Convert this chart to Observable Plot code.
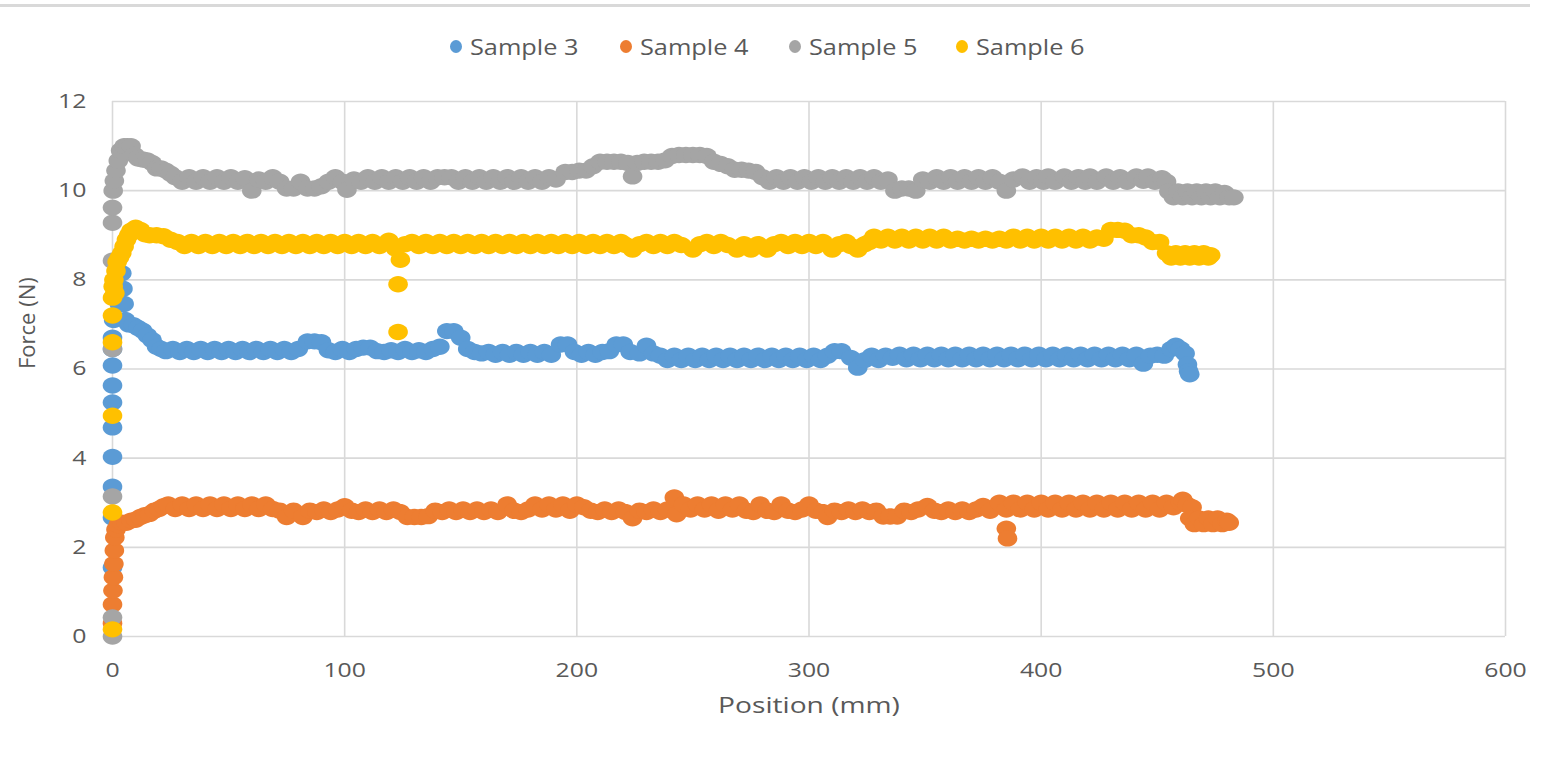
<!DOCTYPE html>
<html>
<head>
<meta charset="utf-8">
<script src="https://cdn.jsdelivr.net/npm/d3@7"></script>
<script src="https://cdn.jsdelivr.net/npm/@observablehq/plot@0.6"></script>
<style>
  html, body { margin: 0; padding: 0; background: #ffffff; }
  #wrap { position: relative; width: 1547px; height: 758px; overflow: hidden; font-family: "Open Sans", sans-serif; }
  #topline { position: absolute; left: 0; top: 4px; width: 1530px; height: 3px; background: #d9d9d9; }
  #legend { position: absolute; left: 0; top: 0; width: 1547px; height: 80px; }
  .item { position: absolute; top: 31px; height: 30px; display: flex; align-items: center; }
  .sw { width: 12px; height: 13px; border-radius: 50%; margin-right: 8px; }
  .lab { font-size: 22px; color: #595959; display: inline-block; transform-origin: left center; white-space: nowrap; }
  #chart { position: absolute; left: 0; top: 0; }
</style>
</head>
<body>
<div id="wrap">
  <div id="topline"></div>
  <div id="chart"></div>
  <div id="legend"></div>
</div>
<script>
// ---- data (Position mm, Force N) ----
const seriesNames = ["Sample 3", "Sample 4", "Sample 5", "Sample 6"];
const seriesColors = ["#5B9BD5", "#ED7D31", "#A5A5A5", "#FFC000"];
const xTicks = [0, 100, 200, 300, 400, 500, 600];
const yTicks = [0, 2, 4, 6, 8, 10, 12];
const xTitle = "Position (mm)";
const yTitle = "Force (N)";

const sample3 = [
 [0,1.55],[0,2.67],[0,3.36],[0,4.03],[0,4.69],[0,5.25],[0,5.63],[0,6.08],[0,6.45],[0,6.7],
 [0.5,7.1],[3,7.45],[4,8.15],[4.5,7.8],[5,7.46],[5.5,7.1],[7,7.0],[9,6.98],[11,6.92],[13,6.86],
 [15,6.75],[17,6.65],[19,6.5],[21,6.45],[23,6.4],[26,6.45],[29,6.38],[32,6.45],[35,6.38],[38,6.45],
 [41,6.38],[44,6.45],[47,6.38],[50,6.45],[53,6.38],[56,6.45],[59,6.38],[62,6.45],[65,6.38],[68,6.45],
 [71,6.38],[74,6.45],[77,6.38],[80,6.45],[84,6.62],[87,6.62],[90,6.6],[93,6.42],[96,6.38],[99,6.45],
 [102,6.38],[105,6.45],[108,6.48],[111,6.48],[114,6.4],[117,6.38],[120,6.42],[123,6.38],[126,6.45],[129,6.38],
 [132,6.42],[135,6.38],[138,6.45],[141,6.5],[144,6.85],[147,6.85],[150,6.7],[153,6.45],[156,6.38],[159,6.35],
 [162,6.38],[165,6.32],[168,6.38],[171,6.32],[174,6.38],[177,6.32],[180,6.38],[183,6.32],[186,6.38],[189,6.32],
 [193,6.55],[196,6.55],[199,6.38],[202,6.32],[205,6.38],[208,6.32],[211,6.38],[214,6.4],[217,6.55],[220,6.55],
 [223,6.38],[227,6.35],[230,6.52],[233,6.35],[236,6.3],[239,6.2],[242,6.3],[245,6.2],[248,6.3],[251,6.2],
 [254,6.3],[257,6.2],[260,6.3],[263,6.2],[266,6.3],[269,6.2],[272,6.3],[275,6.2],[278,6.3],[281,6.2],
 [284,6.3],[287,6.2],[290,6.3],[293,6.2],[296,6.3],[299,6.2],[302,6.3],[305,6.2],[308,6.3],[311,6.4],
 [314,6.4],[318,6.25],[321,6.03],[324,6.2],[327,6.3],[330,6.2],[333,6.3],[336,6.25],[339,6.32],[342,6.22],
 [345,6.32],[348,6.22],[351,6.32],[354,6.22],[357,6.32],[360,6.22],[363,6.32],[366,6.22],[369,6.32],[372,6.22],
 [375,6.32],[378,6.22],[381,6.32],[384,6.22],[387,6.32],[390,6.22],[393,6.32],[396,6.22],[399,6.32],[402,6.22],
 [405,6.32],[408,6.22],[411,6.32],[414,6.22],[417,6.32],[420,6.22],[423,6.32],[426,6.22],[429,6.32],[432,6.22],
 [435,6.32],[438,6.22],[441,6.32],[444,6.12],[447,6.3],[450,6.32],[453,6.3],[456,6.45],[458,6.52],[460,6.45],
 [462,6.35],[463,6.1],[463.5,5.95],[464,5.88]
];

const sample4 = [
 [0,0.3],[0,0.72],[0.2,1.03],[0.4,1.33],[0.6,1.63],[0.8,1.93],[1,2.22],[1.5,2.4],[2.5,2.5],[4,2.55],
 [6,2.55],[8,2.6],[10,2.62],[12,2.68],[14,2.72],[16,2.75],[18,2.82],[20,2.86],[22,2.92],[24,2.96],
 [27,2.86],[30,2.96],[33,2.86],[36,2.96],[39,2.86],[42,2.96],[45,2.86],[48,2.96],[51,2.86],[54,2.96],
 [57,2.86],[60,2.96],[63,2.86],[66,2.96],[69,2.86],[72,2.82],[75,2.68],[78,2.82],[82,2.68],[85,2.82],
 [88,2.79],[91,2.85],[94,2.79],[97,2.85],[100,2.92],[103,2.82],[106,2.79],[109,2.85],[112,2.79],[115,2.85],
 [118,2.79],[121,2.85],[124,2.79],[127,2.68],[130,2.68],[133,2.68],[136,2.7],[139,2.82],[142,2.79],[145,2.85],
 [148,2.79],[151,2.85],[154,2.79],[157,2.85],[160,2.79],[163,2.85],[166,2.79],[170,2.96],[173,2.82],[176,2.79],
 [179,2.85],[182,2.96],[185,2.85],[188,2.96],[191,2.85],[194,2.96],[197,2.82],[200,2.96],[203,2.9],[206,2.82],
 [209,2.79],[212,2.85],[215,2.79],[218,2.85],[221,2.79],[224,2.65],[227,2.82],[230,2.79],[233,2.85],[236,2.79],
 [239,2.85],[242,3.12],[243,2.74],[246,2.96],[249,2.85],[252,2.96],[255,2.85],[258,2.96],[261,2.82],[264,2.96],
 [267,2.85],[270,2.96],[273,2.82],[276,2.79],[279,2.96],[282,2.82],[285,2.79],[288,2.96],[291,2.82],[294,2.79],
 [297,2.85],[300,2.96],[303,2.82],[306,2.79],[308,2.68],[311,2.82],[314,2.79],[317,2.85],[320,2.79],[323,2.85],
 [326,2.79],[329,2.82],[332,2.69],[335,2.69],[338,2.69],[341,2.82],[344,2.79],[347,2.85],[351,2.93],[354,2.82],
 [357,2.79],[360,2.85],[363,2.79],[366,2.85],[369,2.79],[372,2.85],[375,2.93],[378,2.82],[382,3.0],[385,2.85],
 [385,2.42],[385.5,2.2],[388,3.0],[391,2.85],[394,3.0],[397,2.85],[400,3.0],[403,2.85],[406,3.0],[409,2.85],
 [412,3.0],[415,2.85],[418,3.0],[421,2.85],[424,3.0],[427,2.85],[430,3.0],[433,2.85],[436,3.0],[439,2.85],
 [442,3.0],[445,2.85],[448,3.0],[451,2.85],[454,3.0],[457,2.9],[460,3.0],[461,3.07],[463,2.95],[465,2.9],
 [464,2.65],[466,2.52],[468,2.65],[470,2.52],[472,2.65],[474,2.52],[476,2.65],[478,2.52],[480,2.6],[481,2.55]
];

const sample5 = [
 [0,0],[0,0.43],[0,3.14],[0,6.45],[0,8.43],[0,9.28],[0,9.62],[0.3,10.0],[0.8,10.22],[1.5,10.45],
 [2.5,10.67],[3.5,10.9],[5,11.0],[6.5,11.0],[8,11.0],[9.5,10.8],[11,10.72],[13,10.7],[15,10.68],[17,10.62],
 [19,10.5],[21,10.5],[23,10.45],[25,10.38],[27,10.3],[30,10.2],[33,10.3],[36,10.2],[39,10.3],[42,10.2],
 [45,10.3],[48,10.2],[51,10.3],[54,10.2],[57,10.28],[60,10.0],[63,10.25],[66,10.2],[69,10.3],[72,10.2],
 [75,10.05],[78,10.05],[81,10.2],[84,10.05],[87,10.05],[90,10.1],[93,10.2],[96,10.3],[99,10.2],[101,10.02],
 [104,10.25],[107,10.2],[110,10.3],[113,10.2],[116,10.3],[119,10.2],[122,10.3],[125,10.2],[128,10.3],[131,10.2],
 [134,10.3],[137,10.2],[140,10.3],[143,10.3],[146,10.3],[149,10.2],[152,10.3],[155,10.2],[158,10.3],[161,10.2],
 [164,10.3],[167,10.2],[170,10.3],[173,10.2],[176,10.3],[179,10.2],[182,10.3],[185,10.2],[188,10.3],[191,10.25],
 [195,10.42],[198,10.42],[201,10.45],[204,10.45],[207,10.55],[210,10.65],[213,10.65],[216,10.65],[219,10.65],[222,10.62],
 [224,10.32],[226,10.62],[229,10.65],[232,10.65],[235,10.65],[238,10.68],[241,10.78],[244,10.8],[247,10.8],[250,10.8],
 [253,10.8],[256,10.78],[259,10.65],[262,10.6],[265,10.55],[268,10.47],[271,10.47],[274,10.45],[277,10.42],[280,10.3],
 [283,10.2],[286,10.3],[289,10.2],[292,10.3],[295,10.2],[298,10.3],[301,10.2],[304,10.3],[307,10.2],[310,10.3],
 [313,10.2],[316,10.3],[319,10.2],[322,10.3],[325,10.2],[328,10.3],[331,10.2],[334,10.25],[337,10.0],[340,10.05],
 [343,10.05],[346,10.0],[349,10.25],[352,10.2],[355,10.3],[358,10.2],[361,10.3],[364,10.2],[367,10.3],[370,10.2],
 [373,10.3],[376,10.2],[379,10.3],[382,10.2],[385,10.0],[388,10.25],[392,10.32],[395,10.2],[398,10.3],[401,10.2],
 [403,10.32],[406,10.2],[410,10.32],[413,10.2],[416,10.3],[419,10.2],[421,10.32],[424,10.2],[428,10.32],[431,10.2],
 [434,10.3],[437,10.2],[441,10.32],[444,10.22],[446,10.32],[449,10.2],[452,10.28],[454,10.2],[455,9.98],[457,9.85],
 [459,9.98],[461,9.85],[463,9.98],[465,9.85],[467,9.98],[469,9.85],[471,9.98],[473,9.85],[475,9.98],[477,9.85],
 [479,9.95],[481,9.85],[483,9.85]
];

const sample6 = [
 [0,0.16],[0,2.78],[0,4.95],[0,6.6],[0,7.2],[0,7.6],[0.3,7.85],[0.6,8.0],[1,7.7],[1.5,8.2],
 [2,8.4],[3,8.5],[4,8.6],[5,8.75],[6,8.9],[7,9.0],[8,9.1],[10,9.17],[12,9.12],[14,9.02],
 [16,9.0],[19,9.0],[22,8.98],[25,8.9],[28,8.85],[31,8.76],[34,8.85],[37,8.76],[40,8.85],[43,8.76],
 [46,8.85],[49,8.76],[52,8.85],[55,8.76],[58,8.85],[61,8.76],[64,8.85],[67,8.76],[70,8.85],[73,8.76],
 [76,8.85],[79,8.76],[82,8.85],[85,8.76],[88,8.85],[91,8.76],[94,8.85],[97,8.76],[100,8.85],[103,8.76],
 [106,8.85],[109,8.76],[112,8.85],[115,8.76],[119,8.88],[122,8.7],[124,8.45],[123,7.9],[123,6.83],[126,8.8],
 [129,8.85],[132,8.76],[135,8.85],[138,8.76],[141,8.85],[144,8.76],[147,8.85],[150,8.76],[153,8.85],[156,8.76],
 [159,8.85],[162,8.76],[165,8.85],[168,8.76],[171,8.85],[174,8.76],[177,8.85],[180,8.76],[183,8.85],[186,8.76],
 [189,8.85],[192,8.76],[195,8.85],[198,8.76],[201,8.85],[204,8.76],[207,8.85],[210,8.76],[213,8.85],[216,8.76],
 [219,8.85],[221,8.78],[224,8.68],[227,8.8],[230,8.85],[233,8.76],[236,8.85],[239,8.76],[242,8.85],[245,8.78],
 [250,8.68],[253,8.8],[256,8.85],[259,8.76],[262,8.85],[265,8.78],[269,8.68],[272,8.8],[275,8.68],[278,8.8],
 [282,8.68],[285,8.8],[288,8.85],[291,8.76],[294,8.85],[297,8.76],[300,8.85],[303,8.76],[306,8.85],[310,8.68],
 [313,8.8],[316,8.85],[318,8.76],[321,8.68],[324,8.8],[326,8.85],[328,8.97],[331,8.88],[334,8.97],[337,8.88],
 [340,8.97],[343,8.88],[346,8.97],[349,8.88],[352,8.97],[355,8.88],[358,8.97],[361,8.88],[364,8.92],[367,8.88],
 [370,8.92],[373,8.88],[376,8.92],[379,8.88],[382,8.92],[385,8.88],[388,8.97],[391,8.88],[394,8.97],[397,8.88],
 [400,8.97],[403,8.88],[406,8.97],[409,8.88],[412,8.97],[415,8.88],[418,8.97],[421,8.88],[424,8.95],[427,8.92],
 [430,9.12],[433,9.12],[436,9.1],[439,9.0],[442,9.0],[445,8.95],[448,8.85],[451,8.85],[454,8.6],[456,8.5],
 [458,8.6],[460,8.5],[462,8.6],[464,8.5],[466,8.6],[468,8.5],[470,8.6],[472,8.5],[473,8.55]
];

const seriesPoints = [sample3, sample4, sample5, sample6];

// ---- build table ----
const table = seriesPoints.flatMap((pts, i) =>
  pts.map(([x, y]) => ({position: x, force: y, series: seriesNames[i]})));

// slightly wide elliptical marker, as in the reference
const ellipse = {
  draw(ctx) {
    const rx = 9.8, ry = 8.2, k = 0.5523;
    ctx.moveTo(rx, 0);
    ctx.bezierCurveTo(rx, ry * k, rx * k, ry, 0, ry);
    ctx.bezierCurveTo(-rx * k, ry, -rx, ry * k, -rx, 0);
    ctx.bezierCurveTo(-rx, -ry * k, -rx * k, -ry, 0, -ry);
    ctx.bezierCurveTo(rx * k, -ry, rx, -ry * k, rx, 0);
    ctx.closePath();
  }
};

const grid = {stroke: "#d9d9d9", strokeOpacity: 1, strokeWidth: 1.6};

const chart = Plot.plot({
  width: 1547,
  height: 758,
  marginLeft: 112,
  marginRight: 42,
  marginTop: 101,
  marginBottom: 122,
  style: {fontFamily: "Open Sans, sans-serif", color: "#595959", background: "transparent"},
  x: {domain: [0, 600], label: null},
  y: {domain: [0, 12], label: null},
  color: {domain: seriesNames, range: seriesColors},
  marks: [
    Plot.gridX(xTicks, grid),
    Plot.gridY(yTicks, grid),
    Plot.axisX(xTicks, {tickSize: 0, tickPadding: 26, fontSize: 20, label: null, tickFormat: d => String(d)}),
    Plot.axisY(yTicks, {tickSize: 0, tickPadding: 26, fontSize: 20, label: null, tickFormat: d => String(d)}),
    Plot.dot(table, {x: "position", y: "force", fill: "series", symbol: ellipse, r: 8}),
    Plot.text([xTitle], {frameAnchor: "bottom", dy: 76, fontSize: 22, fill: "#595959", text: d => d}),
    Plot.text([yTitle], {frameAnchor: "left", dx: -85, rotate: -90, fontSize: 22, fill: "#595959", text: d => d})
  ]
});
document.getElementById("chart").appendChild(chart);

// widen horizontally the texts, as the reference is horizontally stretched
chart.querySelectorAll("g[aria-label='x-axis tick label'] text, g[aria-label='y-axis tick label'] text").forEach(t => {
  const L = t.getComputedTextLength();
  t.setAttribute("textLength", (L * 1.24).toFixed(1));
  t.setAttribute("lengthAdjust", "spacingAndGlyphs");
});
chart.querySelectorAll("g[aria-label='text'] text").forEach(t => {
  if (t.textContent === xTitle) {
    const L = t.getComputedTextLength();
    t.setAttribute("textLength", (L * 1.28).toFixed(1));
    t.setAttribute("lengthAdjust", "spacingAndGlyphs");
  }
});

// legend
const legend = document.getElementById("legend");
const legendCenters = [456, 626, 795, 962];
seriesNames.forEach((name, i) => {
  const item = document.createElement("div");
  item.className = "item";
  item.style.left = (legendCenters[i] - 6) + "px";
  const sw = document.createElement("span");
  sw.className = "sw";
  sw.style.background = seriesColors[i];
  const lab = document.createElement("span");
  lab.className = "lab";
  lab.textContent = name;
  lab.style.transform = "scaleX(1.15)";
  item.appendChild(sw);
  item.appendChild(lab);
  legend.appendChild(item);
});
</script>
</body>
</html>
